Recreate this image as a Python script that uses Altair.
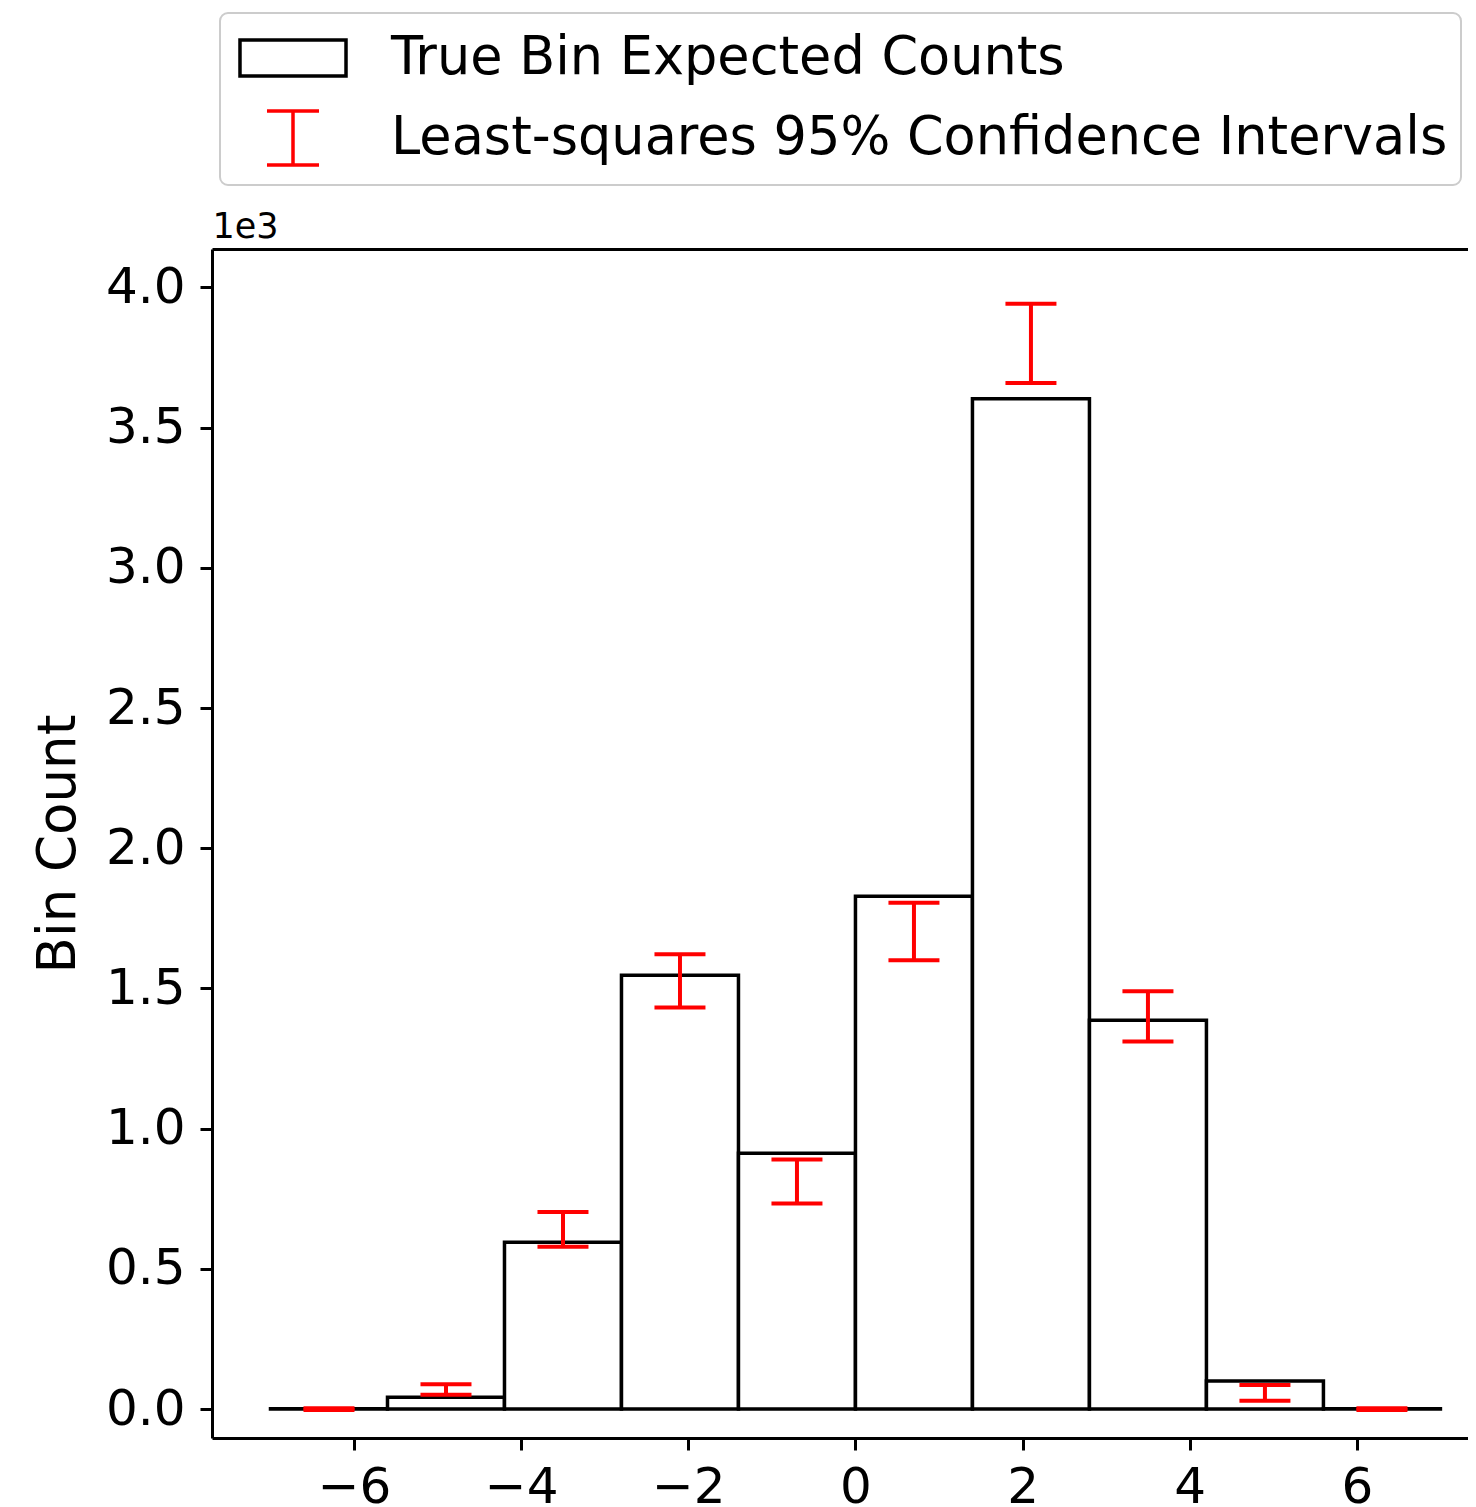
import altair as alt
import pandas as pd

# ---- data (counts) ----
bin_edges = [-7.0, -5.6, -4.2, -2.8, -1.4, 0.0, 1.4, 2.8, 4.2, 5.6, 7.0]
true_counts = [1, 42, 595, 1547, 912, 1829, 3603, 1387, 100, 1]
ci_lower = [-3, 51, 579, 1432, 733, 1601, 3659, 1311, 30, -3]
ci_upper = [3, 89, 703, 1622, 890, 1806, 3942, 1490, 86, 3]
series_names = ["True Bin Expected Counts", "Least-squares 95% Confidence Intervals"]
x_ticks = [-6, -4, -2, 0, 2, 4, 6]
y_ticks_k = [0.0, 0.5, 1.0, 1.5, 2.0, 2.5, 3.0, 3.5, 4.0]   # axis shown in units of 1e3

bars_df = pd.DataFrame({
    "left": bin_edges[:-1],
    "right": bin_edges[1:],
    "count": true_counts,
})
err_df = pd.DataFrame({
    "center": [(a + b) / 2 for a, b in zip(bin_edges[:-1], bin_edges[1:])],
    "lower": ci_lower,
    "upper": ci_upper,
    "series": series_names[1],
})

FONT = "DejaVu Sans"
xscale = alt.Scale(domain=[-7.7, 7.33], nice=False, zero=False)
yscale = alt.Scale(domain=[-0.103, 4.137], nice=False, zero=False)

rect_path = "M-1.767,-0.6H1.767V0.6H-1.767Z"
err_path = "M-0.867,-0.9H0.867M0,-0.9V0.9M-0.867,0.9H0.867"

legend = alt.Legend(
    title=None, orient="none", legendX=8, legendY=-236, direction="vertical",
    padding=13, rowPadding=19, symbolSize=3600, symbolOffset=28,
    symbolStrokeWidth=3.5, symbolOpacity=1, labelOffset=66,
    labelFontSize=52.5, labelFont=FONT, labelColor="black", labelLimit=2000,
    strokeColor="#cccccc", cornerRadius=8, fillColor="white",
)

bars = alt.Chart(bars_df).transform_calculate(
    count_k="datum.count / 1000"
).mark_rect(fill="white", stroke="black", strokeWidth=3.5).encode(
    x=alt.X("left:Q", scale=xscale, axis=alt.Axis(
        values=x_ticks, format="d", title=None, grid=False, orient="bottom",
        domainColor="black", domainWidth=3, tickColor="black", tickWidth=3,
        tickSize=12, labelFontSize=50, labelPadding=12, labelColor="black",
        labelFont=FONT)),
    x2="right:Q",
    y=alt.Y("count_k:Q", scale=yscale, axis=alt.Axis(
        values=y_ticks_k, format=".1f", orient="left",
        title="Bin Count", titleFontSize=53, titleFont=FONT, titleFontWeight="normal",
        titleColor="black", titlePadding=20, grid=False,
        domainColor="black", domainWidth=3, tickColor="black", tickWidth=3,
        tickSize=12, labelFontSize=50, labelPadding=15, labelColor="black",
        labelFont=FONT)),
    y2=alt.datum(0),
)

err_base = alt.Chart(err_df).transform_calculate(
    lower_k="datum.lower / 1000", upper_k="datum.upper / 1000"
)

err_rule = err_base.mark_rule(color="red", strokeWidth=4, opacity=1).encode(
    x=alt.X("center:Q", scale=xscale, axis=alt.Axis(
        orient="top", labels=False, ticks=False, domain=True, grid=False,
        domainColor="black", domainWidth=3,
        title="1e3", titleAnchor="start", titleAlign="left", titleFontSize=35,
        titleFont=FONT, titleFontWeight="normal", titleColor="black",
        titlePadding=5)),
    y=alt.Y("lower_k:Q", scale=yscale, axis=None),
    y2="upper_k:Q",
)

cap_lo = err_base.mark_tick(color="red", orient="horizontal", size=51, thickness=4, opacity=1).encode(
    x=alt.X("center:Q", scale=xscale, axis=None),
    y=alt.Y("lower_k:Q", scale=yscale, axis=None),
)
cap_hi = err_base.mark_tick(color="red", orient="horizontal", size=51, thickness=4, opacity=1).encode(
    x=alt.X("center:Q", scale=xscale, axis=None),
    y=alt.Y("upper_k:Q", scale=yscale, axis=None),
)

legend_pts = err_base.mark_point(filled=False, opacity=0).encode(
    x=alt.X("center:Q", scale=xscale, axis=None),
    y=alt.Y("upper_k:Q", scale=yscale, axis=None),
    stroke=alt.Stroke("series:N", scale=alt.Scale(domain=series_names, range=["black", "red"]), legend=legend),
    shape=alt.Shape("series:N", scale=alt.Scale(domain=series_names, range=[rect_path, err_path]), legend=legend),
)

chart = alt.layer(bars, err_rule, cap_lo, cap_hi, legend_pts).resolve_axis(
    x="independent", y="independent"
).properties(
    width=1256,
    height=1189,
    autosize=alt.AutoSizeParams(type="none"),
    padding={"left": 204, "top": 241, "right": 0, "bottom": 70},
).configure_view(strokeWidth=0).configure_legend(strokeWidth=2)

chart.save("out.html", embed_options={"renderer": "svg", "actions": False})
